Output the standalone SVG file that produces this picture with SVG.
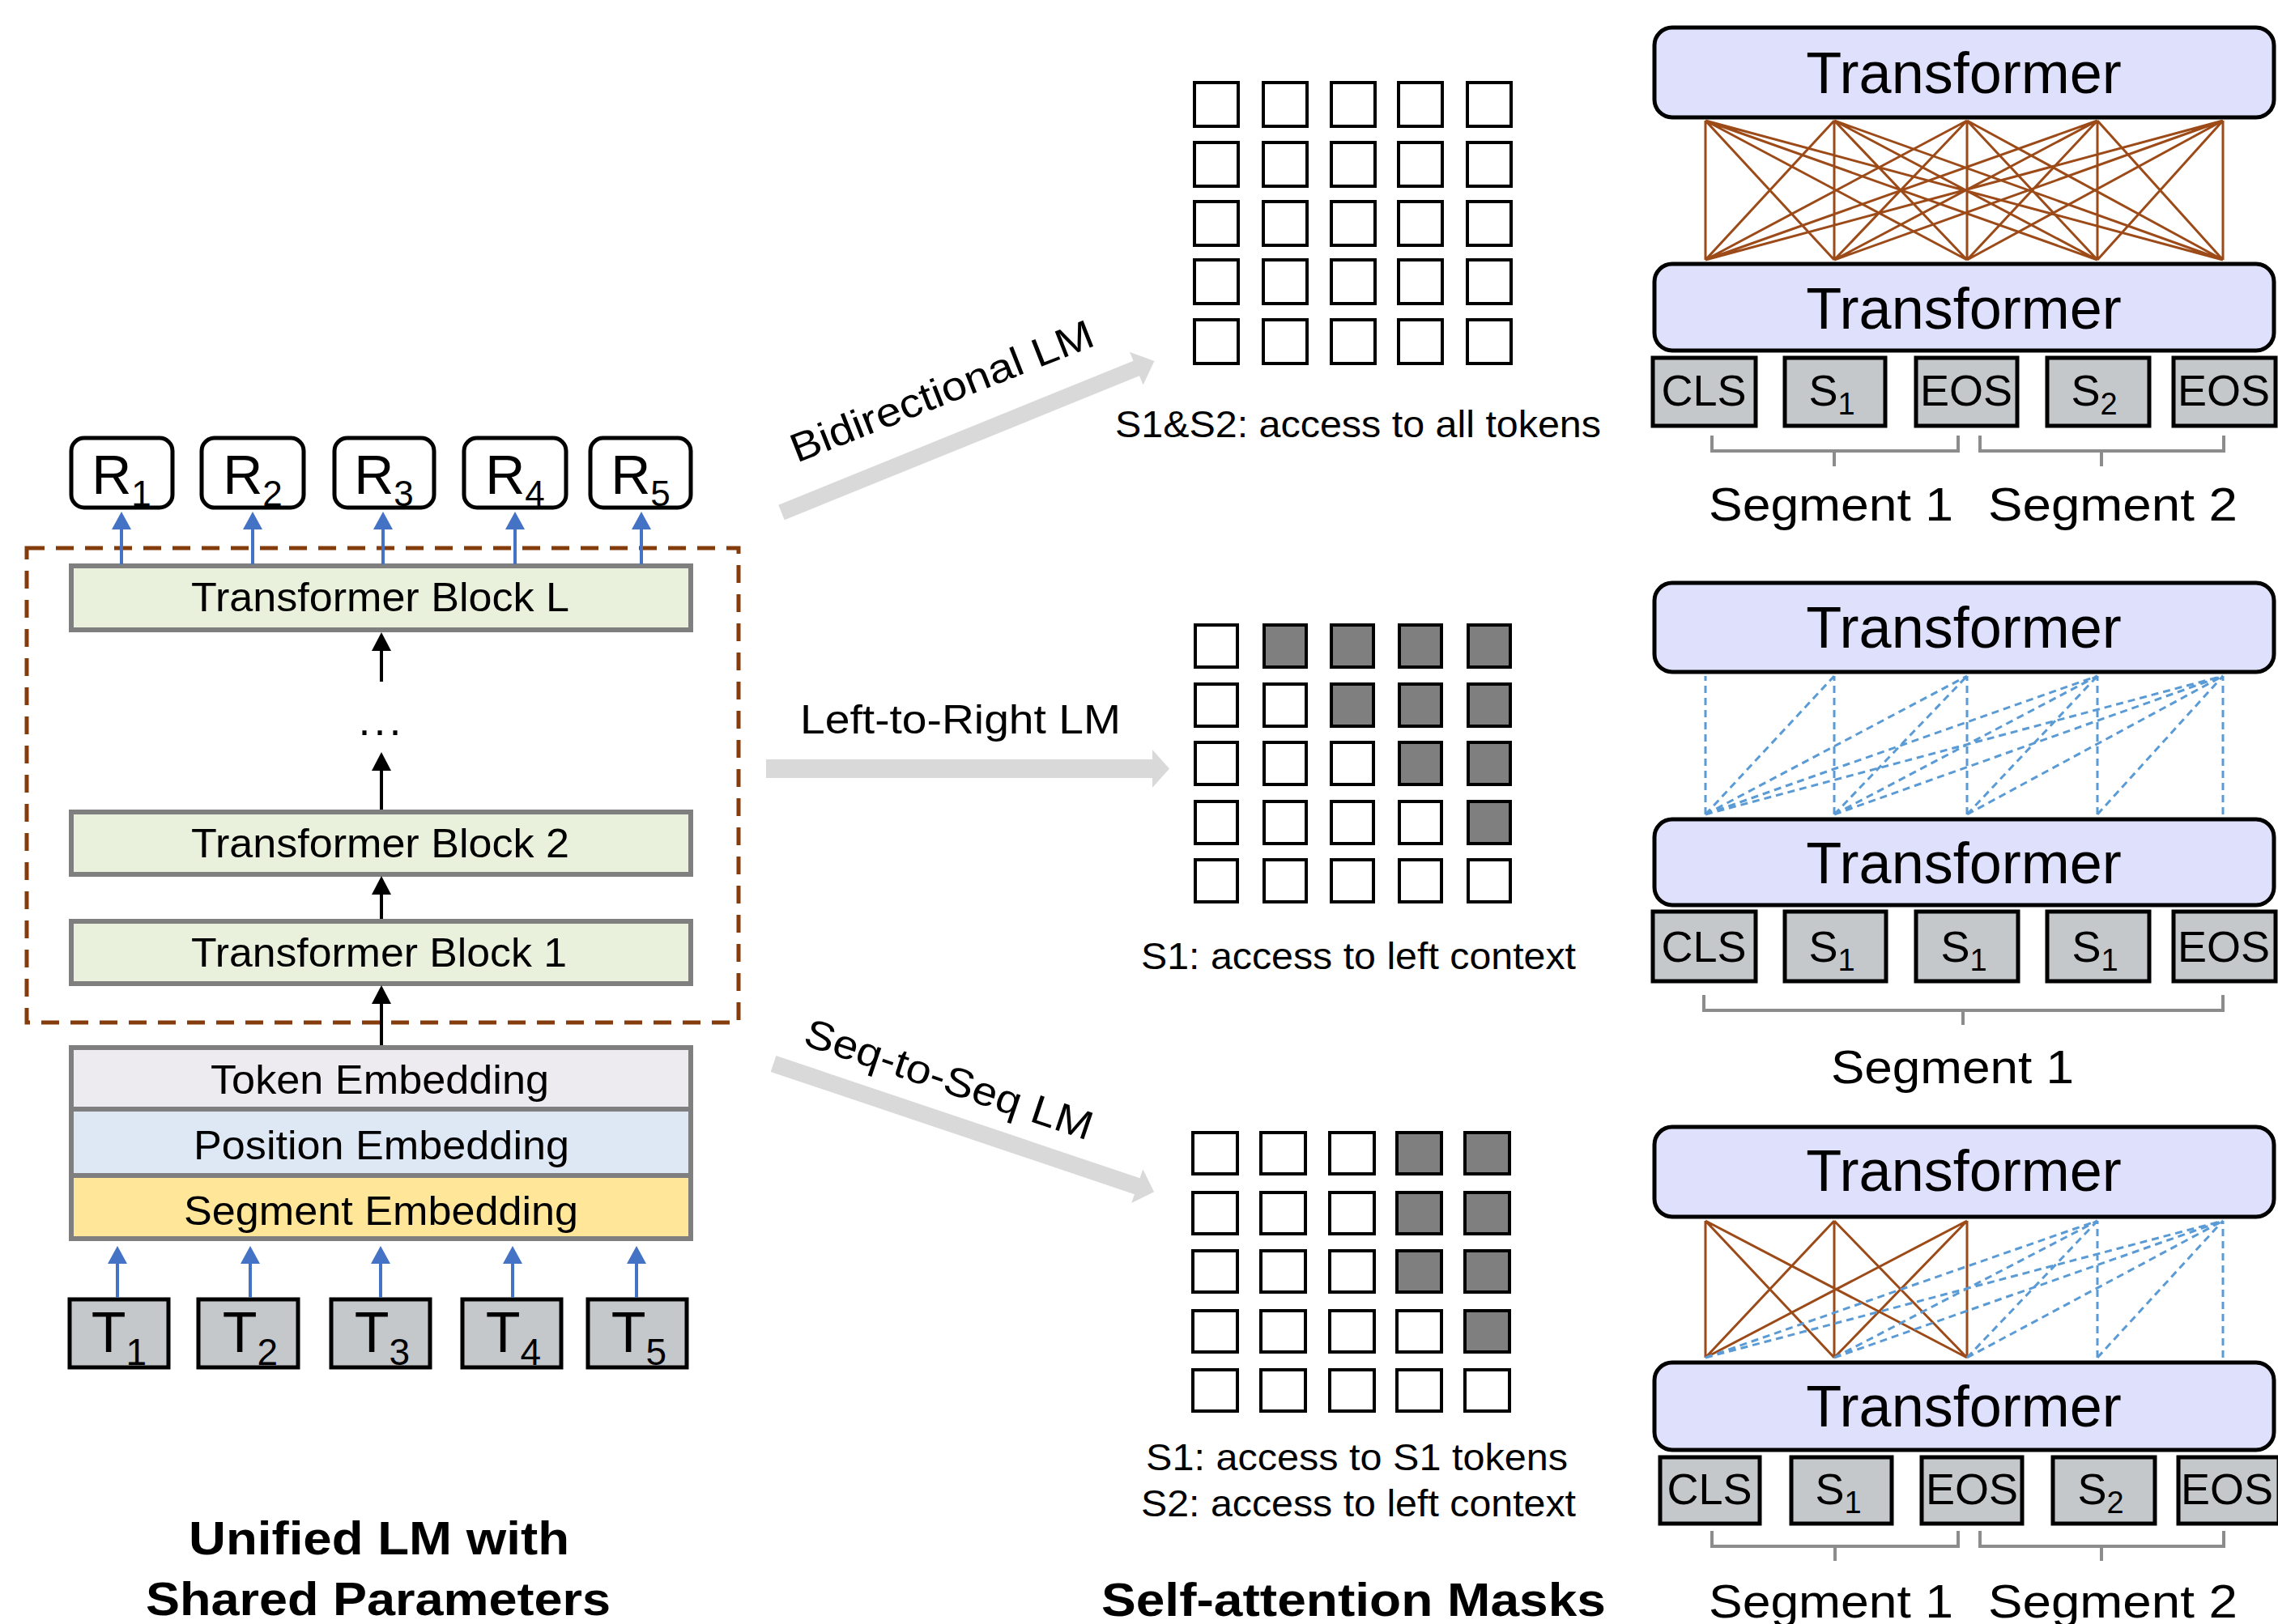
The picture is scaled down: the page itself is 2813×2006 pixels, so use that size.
<svg xmlns="http://www.w3.org/2000/svg" width="2813" height="2006" viewBox="0 0 2813 2006">
<style>
text{font-family:"Liberation Sans",Arial,sans-serif;fill:#000}
.blk{fill:#E9F0DC;stroke:#7F7F7F;stroke-width:6}
.emb{stroke:#7F7F7F;stroke-width:6}
.rbox{fill:#fff;stroke:#000;stroke-width:5}
.tok{fill:#C5C8CB;stroke:#000;stroke-width:5}
.tf{fill:#DFE0FC;stroke:#000;stroke-width:5}
.cell{fill:#fff;stroke:#000;stroke-width:4}
.dark{fill:#7F7F7F}
.brk{fill:none;stroke:#8C8C8C;stroke-width:4}
.blue{stroke:#4472C4;stroke-width:4;fill:none}
.blk-ar{stroke:#000;stroke-width:4;fill:none}
.bigar{fill:#D9D9D9}
.full{stroke:#9C4A18;stroke-width:3;fill:none}
.mask{stroke:#5B9BD5;stroke-width:3;fill:none;stroke-dasharray:9 6}
.lbl{font-size:50px}
.note{font-size:46px}
.tft{font-size:72px}
.tkt{font-size:54px}
.seg{font-size:58px}
.ttl{font-size:58px;font-weight:bold}
</style>
<defs>
<marker id="hb" viewBox="0 0 22 24" refX="4" refY="12" markerWidth="22" markerHeight="24" markerUnits="userSpaceOnUse" orient="auto"><path d="M0,0L22,12L0,24z" fill="#4472C4"/></marker>
<marker id="hk" viewBox="0 0 23 24" refX="4" refY="12" markerWidth="23" markerHeight="24" markerUnits="userSpaceOnUse" orient="auto"><path d="M0,0L23,12L0,24z" fill="#000"/></marker>
</defs>

<g id="unified-frame">
<rect x="33" y="677" width="879" height="586" fill="none" stroke="#843C0C" stroke-width="5" stroke-dasharray="22 14"/>
</g>

<g id="outputs">
<g id="R1"><rect class="rbox" x="88" y="541" width="125" height="86" rx="16"/><text x="150" y="610" text-anchor="middle" font-size="68">R<tspan font-size="44" dy="15">1</tspan></text></g>
<g id="R2"><rect class="rbox" x="249" y="541" width="126" height="86" rx="16"/><text x="312" y="610" text-anchor="middle" font-size="68">R<tspan font-size="44" dy="15">2</tspan></text></g>
<g id="R3"><rect class="rbox" x="413" y="541" width="123" height="86" rx="16"/><text x="474" y="610" text-anchor="middle" font-size="68">R<tspan font-size="44" dy="15">3</tspan></text></g>
<g id="R4"><rect class="rbox" x="573" y="541" width="126" height="86" rx="16"/><text x="636" y="610" text-anchor="middle" font-size="68">R<tspan font-size="44" dy="15">4</tspan></text></g>
<g id="R5"><rect class="rbox" x="729" y="541" width="124" height="86" rx="16"/><text x="791" y="610" text-anchor="middle" font-size="68">R<tspan font-size="44" dy="15">5</tspan></text></g>
</g>

<g id="blockL"><rect class="blk" x="88" y="699" width="765" height="79"/><text class="lbl" x="236" y="755" textLength="467" lengthAdjust="spacingAndGlyphs">Transformer  Block L</text></g>
<g id="dots"><text x="471" y="908" text-anchor="middle" font-size="54" letter-spacing="4">...</text></g>
<g id="block2"><rect class="blk" x="88" y="1003" width="765" height="77"/><text class="lbl" x="236" y="1059" textLength="467" lengthAdjust="spacingAndGlyphs">Transformer  Block 2</text></g>
<g id="block1"><rect class="blk" x="88" y="1138" width="765" height="77"/><text class="lbl" x="236" y="1194" textLength="464" lengthAdjust="spacingAndGlyphs">Transformer  Block 1</text></g>

<g id="embeddings">
<rect class="emb" x="88" y="1294" width="765" height="76" fill="#EDEAF0"/>
<rect class="emb" x="88" y="1370" width="765" height="82" fill="#DEE8F4"/>
<rect class="emb" x="88" y="1452" width="765" height="78" fill="#FFE699"/>
<text class="lbl" x="260" y="1351" textLength="418" lengthAdjust="spacingAndGlyphs">Token Embedding</text>
<text class="lbl" x="239" y="1432" textLength="464" lengthAdjust="spacingAndGlyphs">Position Embedding</text>
<text class="lbl" x="227" y="1513" textLength="487" lengthAdjust="spacingAndGlyphs">Segment Embedding</text>
</g>

<g id="inputs">
<g id="T1"><rect class="tok" x="86" y="1605" width="122" height="84"/><text x="147" y="1670" text-anchor="middle" font-size="70">T<tspan font-size="46" dy="16">1</tspan></text></g>
<g id="T2"><rect class="tok" x="245" y="1605" width="123" height="84"/><text x="309" y="1670" text-anchor="middle" font-size="70">T<tspan font-size="46" dy="16">2</tspan></text></g>
<g id="T3"><rect class="tok" x="409" y="1605" width="122" height="84"/><text x="472" y="1670" text-anchor="middle" font-size="70">T<tspan font-size="46" dy="16">3</tspan></text></g>
<g id="T4"><rect class="tok" x="571" y="1605" width="122" height="84"/><text x="634" y="1670" text-anchor="middle" font-size="70">T<tspan font-size="46" dy="16">4</tspan></text></g>
<g id="T5"><rect class="tok" x="726" y="1605" width="122" height="84"/><text x="789" y="1670" text-anchor="middle" font-size="70">T<tspan font-size="46" dy="16">5</tspan></text></g>
</g>

<g id="caption-left">
<text class="ttl" x="233" y="1920" textLength="470" lengthAdjust="spacingAndGlyphs">Unified LM with</text>
<text class="ttl" x="180" y="1995" textLength="574" lengthAdjust="spacingAndGlyphs">Shared Parameters</text>
</g>

<g id="mask-bidirectional">
<rect class="cell" x="1475" y="102" width="54" height="54"/><rect class="cell" x="1560" y="102" width="54" height="54"/><rect class="cell" x="1644" y="102" width="54" height="54"/><rect class="cell" x="1727" y="102" width="54" height="54"/><rect class="cell" x="1812" y="102" width="54" height="54"/>
<rect class="cell" x="1475" y="176" width="54" height="54"/><rect class="cell" x="1560" y="176" width="54" height="54"/><rect class="cell" x="1644" y="176" width="54" height="54"/><rect class="cell" x="1727" y="176" width="54" height="54"/><rect class="cell" x="1812" y="176" width="54" height="54"/>
<rect class="cell" x="1475" y="249" width="54" height="54"/><rect class="cell" x="1560" y="249" width="54" height="54"/><rect class="cell" x="1644" y="249" width="54" height="54"/><rect class="cell" x="1727" y="249" width="54" height="54"/><rect class="cell" x="1812" y="249" width="54" height="54"/>
<rect class="cell" x="1475" y="321" width="54" height="54"/><rect class="cell" x="1560" y="321" width="54" height="54"/><rect class="cell" x="1644" y="321" width="54" height="54"/><rect class="cell" x="1727" y="321" width="54" height="54"/><rect class="cell" x="1812" y="321" width="54" height="54"/>
<rect class="cell" x="1475" y="395" width="54" height="54"/><rect class="cell" x="1560" y="395" width="54" height="54"/><rect class="cell" x="1644" y="395" width="54" height="54"/><rect class="cell" x="1727" y="395" width="54" height="54"/><rect class="cell" x="1812" y="395" width="54" height="54"/>
<text class="note" x="1377" y="540" textLength="600" lengthAdjust="spacingAndGlyphs">S1&amp;S2: access to all tokens</text>
</g>

<g id="mask-left-to-right">
<rect class="cell" x="1476" y="772" width="52" height="52"/><rect class="cell dark" x="1561" y="772" width="52" height="52"/><rect class="cell dark" x="1644" y="772" width="52" height="52"/><rect class="cell dark" x="1728" y="772" width="52" height="52"/><rect class="cell dark" x="1813" y="772" width="52" height="52"/>
<rect class="cell" x="1476" y="845" width="52" height="52"/><rect class="cell" x="1561" y="845" width="52" height="52"/><rect class="cell dark" x="1644" y="845" width="52" height="52"/><rect class="cell dark" x="1728" y="845" width="52" height="52"/><rect class="cell dark" x="1813" y="845" width="52" height="52"/>
<rect class="cell" x="1476" y="917" width="52" height="52"/><rect class="cell" x="1561" y="917" width="52" height="52"/><rect class="cell" x="1644" y="917" width="52" height="52"/><rect class="cell dark" x="1728" y="917" width="52" height="52"/><rect class="cell dark" x="1813" y="917" width="52" height="52"/>
<rect class="cell" x="1476" y="990" width="52" height="52"/><rect class="cell" x="1561" y="990" width="52" height="52"/><rect class="cell" x="1644" y="990" width="52" height="52"/><rect class="cell" x="1728" y="990" width="52" height="52"/><rect class="cell dark" x="1813" y="990" width="52" height="52"/>
<rect class="cell" x="1476" y="1062" width="52" height="52"/><rect class="cell" x="1561" y="1062" width="52" height="52"/><rect class="cell" x="1644" y="1062" width="52" height="52"/><rect class="cell" x="1728" y="1062" width="52" height="52"/><rect class="cell" x="1813" y="1062" width="52" height="52"/>
<text class="note" x="1409" y="1197" textLength="537" lengthAdjust="spacingAndGlyphs">S1: access to left context</text>
</g>

<g id="mask-seq-to-seq">
<rect class="cell" x="1473" y="1399" width="55" height="51"/><rect class="cell" x="1557" y="1399" width="55" height="51"/><rect class="cell" x="1642" y="1399" width="55" height="51"/><rect class="cell dark" x="1725" y="1399" width="55" height="51"/><rect class="cell dark" x="1809" y="1399" width="55" height="51"/>
<rect class="cell" x="1473" y="1473" width="55" height="51"/><rect class="cell" x="1557" y="1473" width="55" height="51"/><rect class="cell" x="1642" y="1473" width="55" height="51"/><rect class="cell dark" x="1725" y="1473" width="55" height="51"/><rect class="cell dark" x="1809" y="1473" width="55" height="51"/>
<rect class="cell" x="1473" y="1545" width="55" height="51"/><rect class="cell" x="1557" y="1545" width="55" height="51"/><rect class="cell" x="1642" y="1545" width="55" height="51"/><rect class="cell dark" x="1725" y="1545" width="55" height="51"/><rect class="cell dark" x="1809" y="1545" width="55" height="51"/>
<rect class="cell" x="1473" y="1619" width="55" height="51"/><rect class="cell" x="1557" y="1619" width="55" height="51"/><rect class="cell" x="1642" y="1619" width="55" height="51"/><rect class="cell" x="1725" y="1619" width="55" height="51"/><rect class="cell dark" x="1809" y="1619" width="55" height="51"/>
<rect class="cell" x="1473" y="1692" width="55" height="51"/><rect class="cell" x="1557" y="1692" width="55" height="51"/><rect class="cell" x="1642" y="1692" width="55" height="51"/><rect class="cell" x="1725" y="1692" width="55" height="51"/><rect class="cell" x="1809" y="1692" width="55" height="51"/>
<text class="note" x="1415" y="1816" textLength="521" lengthAdjust="spacingAndGlyphs">S1: access to S1 tokens</text>
<text class="note" x="1409" y="1873" textLength="537" lengthAdjust="spacingAndGlyphs">S2: access to left context</text>
</g>

<g id="caption-masks">
<text class="ttl" x="1360" y="1996" textLength="623" lengthAdjust="spacingAndGlyphs">Self-attention  Masks</text>
</g>

<g id="panel-bidirectional">
<g id="p1-top"><rect class="tf" x="2043" y="34" width="765" height="111" rx="22"/><text class="tft" x="2425" y="115" text-anchor="middle">Transformer</text></g>
<g id="p1-bottom"><rect class="tf" x="2043" y="326" width="765" height="107" rx="22"/><text class="tft" x="2425" y="406" text-anchor="middle">Transformer</text></g>
<g id="p1-tokens">
<rect class="tok" x="2041" y="442" width="127" height="84"/><text class="tkt" x="2104" y="501" text-anchor="middle">CLS</text>
<rect class="tok" x="2204" y="442" width="124" height="84"/><text class="tkt" x="2262" y="501" text-anchor="middle">S<tspan font-size="38" dy="11">1</tspan></text>
<rect class="tok" x="2366" y="442" width="125" height="84"/><text class="tkt" x="2428" y="501" text-anchor="middle">EOS</text>
<rect class="tok" x="2528" y="442" width="126" height="84"/><text class="tkt" x="2586" y="501" text-anchor="middle">S<tspan font-size="38" dy="11">2</tspan></text>
<rect class="tok" x="2684" y="442" width="126" height="84"/><text class="tkt" x="2746" y="501" text-anchor="middle">EOS</text>
</g>
<path class="brk" d="M2114,538V557H2418V538M2265,557V576M2445,538V557H2746V538M2595,557V576"/>
<text class="seg" x="2110" y="643" textLength="302" lengthAdjust="spacingAndGlyphs">Segment  1</text>
<text class="seg" x="2455" y="643" textLength="308" lengthAdjust="spacingAndGlyphs">Segment  2</text>
</g>

<g id="panel-left-to-right">
<g id="p2-top"><rect class="tf" x="2043" y="720" width="765" height="110" rx="22"/><text class="tft" x="2425" y="800" text-anchor="middle">Transformer</text></g>
<g id="p2-bottom"><rect class="tf" x="2043" y="1012" width="765" height="106" rx="22"/><text class="tft" x="2425" y="1091" text-anchor="middle">Transformer</text></g>
<g id="p2-tokens">
<rect class="tok" x="2041" y="1126" width="127" height="86"/><text class="tkt" x="2104" y="1188" text-anchor="middle">CLS</text>
<rect class="tok" x="2204" y="1126" width="125" height="86"/><text class="tkt" x="2262" y="1188" text-anchor="middle">S<tspan font-size="38" dy="11">1</tspan></text>
<rect class="tok" x="2366" y="1126" width="126" height="86"/><text class="tkt" x="2425" y="1188" text-anchor="middle">S<tspan font-size="38" dy="11">1</tspan></text>
<rect class="tok" x="2528" y="1126" width="126" height="86"/><text class="tkt" x="2587" y="1188" text-anchor="middle">S<tspan font-size="38" dy="11">1</tspan></text>
<rect class="tok" x="2684" y="1126" width="126" height="86"/><text class="tkt" x="2746" y="1188" text-anchor="middle">EOS</text>
</g>
<path class="brk" d="M2104,1229V1248H2745V1229M2424,1248V1266"/>
<text class="seg" x="2261" y="1338" textLength="300" lengthAdjust="spacingAndGlyphs">Segment  1</text>
</g>

<g id="panel-seq-to-seq">
<g id="p3-top"><rect class="tf" x="2043" y="1392" width="765" height="111" rx="22"/><text class="tft" x="2425" y="1471" text-anchor="middle">Transformer</text></g>
<g id="p3-bottom"><rect class="tf" x="2043" y="1683" width="765" height="108" rx="22"/><text class="tft" x="2425" y="1762" text-anchor="middle">Transformer</text></g>
<g id="p3-tokens">
<rect class="tok" x="2050" y="1800" width="123" height="82"/><text class="tkt" x="2111" y="1858" text-anchor="middle">CLS</text>
<rect class="tok" x="2212" y="1800" width="124" height="82"/><text class="tkt" x="2270" y="1858" text-anchor="middle">S<tspan font-size="38" dy="11">1</tspan></text>
<rect class="tok" x="2373" y="1800" width="124" height="82"/><text class="tkt" x="2435" y="1858" text-anchor="middle">EOS</text>
<rect class="tok" x="2535" y="1800" width="126" height="82"/><text class="tkt" x="2594" y="1858" text-anchor="middle">S<tspan font-size="38" dy="11">2</tspan></text>
<rect class="tok" x="2690" y="1800" width="124" height="82"/><text class="tkt" x="2750" y="1858" text-anchor="middle">EOS</text>
</g>
<path class="brk" d="M2114,1891V1910H2418V1891M2266,1910V1928M2445,1891V1910H2746V1891M2595,1910V1928"/>
<text class="seg" x="2110" y="1998" textLength="302" lengthAdjust="spacingAndGlyphs">Segment  1</text>
<text class="seg" x="2455" y="1998" textLength="308" lengthAdjust="spacingAndGlyphs">Segment  2</text>
</g>

<g id="connectors">
<line class="blue" x1="150" y1="697" x2="150" y2="650" marker-end="url(#hb)"/>
<line class="blue" x1="312" y1="697" x2="312" y2="650" marker-end="url(#hb)"/>
<line class="blue" x1="473" y1="697" x2="473" y2="650" marker-end="url(#hb)"/>
<line class="blue" x1="636" y1="697" x2="636" y2="650" marker-end="url(#hb)"/>
<line class="blue" x1="792" y1="697" x2="792" y2="650" marker-end="url(#hb)"/>
<line class="blk-ar" x1="471" y1="842" x2="471" y2="800" marker-end="url(#hk)"/>
<line class="blk-ar" x1="471" y1="1000" x2="471" y2="948" marker-end="url(#hk)"/>
<line class="blk-ar" x1="471" y1="1135" x2="471" y2="1101" marker-end="url(#hk)"/>
<line class="blk-ar" x1="471" y1="1291" x2="471" y2="1236" marker-end="url(#hk)"/>
<line class="blue" x1="145" y1="1603" x2="145" y2="1557" marker-end="url(#hb)"/>
<line class="blue" x1="309" y1="1603" x2="309" y2="1557" marker-end="url(#hb)"/>
<line class="blue" x1="470" y1="1603" x2="470" y2="1557" marker-end="url(#hb)"/>
<line class="blue" x1="633" y1="1603" x2="633" y2="1557" marker-end="url(#hb)"/>
<line class="blue" x1="786" y1="1603" x2="786" y2="1557" marker-end="url(#hb)"/>

<g id="arrow-bidirectional">
<polygon class="bigar" transform="translate(965,633) rotate(-22.1)" points="0,-10 473,-10 473,-22 497,0 473,22 473,10 0,10"/>
<text class="lbl" transform="translate(984,572) rotate(-21.5)" textLength="398" lengthAdjust="spacingAndGlyphs">Bidirectional LM</text>
</g>
<g id="arrow-left-to-right">
<polygon class="bigar" points="946,938 1423,938 1423,926 1444,949.5 1423,973 1423,961 946,961"/>
<text class="lbl" x="988" y="906" textLength="396" lengthAdjust="spacingAndGlyphs">Left-to-Right LM</text>
</g>
<g id="arrow-seq-to-seq">
<polygon class="bigar" transform="translate(955,1314) rotate(18.6)" points="0,-10.5 474,-10.5 474,-22 496,0 474,22 474,10.5 0,10.5"/>
<text class="lbl" transform="translate(990,1290) rotate(18.6)" textLength="372" lengthAdjust="spacingAndGlyphs">Seq-to-Seq LM</text>
</g>

<path class="full" d="M2106,321L2106,149M2106,321L2265,149M2106,321L2429,149M2106,321L2590,149M2106,321L2745,149M2265,321L2106,149M2265,321L2265,149M2265,321L2429,149M2265,321L2590,149M2265,321L2745,149M2429,321L2106,149M2429,321L2265,149M2429,321L2429,149M2429,321L2590,149M2429,321L2745,149M2590,321L2106,149M2590,321L2265,149M2590,321L2429,149M2590,321L2590,149M2590,321L2745,149M2745,321L2106,149M2745,321L2265,149M2745,321L2429,149M2745,321L2590,149M2745,321L2745,149"/>

<path class="mask" d="M2106,1006L2106,835M2106,1006L2265,835M2265,1006L2265,835M2106,1006L2429,835M2265,1006L2429,835M2429,1006L2429,835M2106,1006L2590,835M2265,1006L2590,835M2429,1006L2590,835M2590,1006L2590,835M2106,1006L2745,835M2265,1006L2745,835M2429,1006L2745,835M2590,1006L2745,835M2745,1006L2745,835"/>

<path class="full" d="M2106,1677L2106,1508M2106,1677L2265,1508M2106,1677L2429,1508M2265,1677L2106,1508M2265,1677L2265,1508M2265,1677L2429,1508M2429,1677L2106,1508M2429,1677L2265,1508M2429,1677L2429,1508"/>
<path class="mask" d="M2106,1677L2590,1508M2265,1677L2590,1508M2429,1677L2590,1508M2590,1677L2590,1508M2106,1677L2745,1508M2265,1677L2745,1508M2429,1677L2745,1508M2590,1677L2745,1508M2745,1677L2745,1508"/>
</g>
</svg>
